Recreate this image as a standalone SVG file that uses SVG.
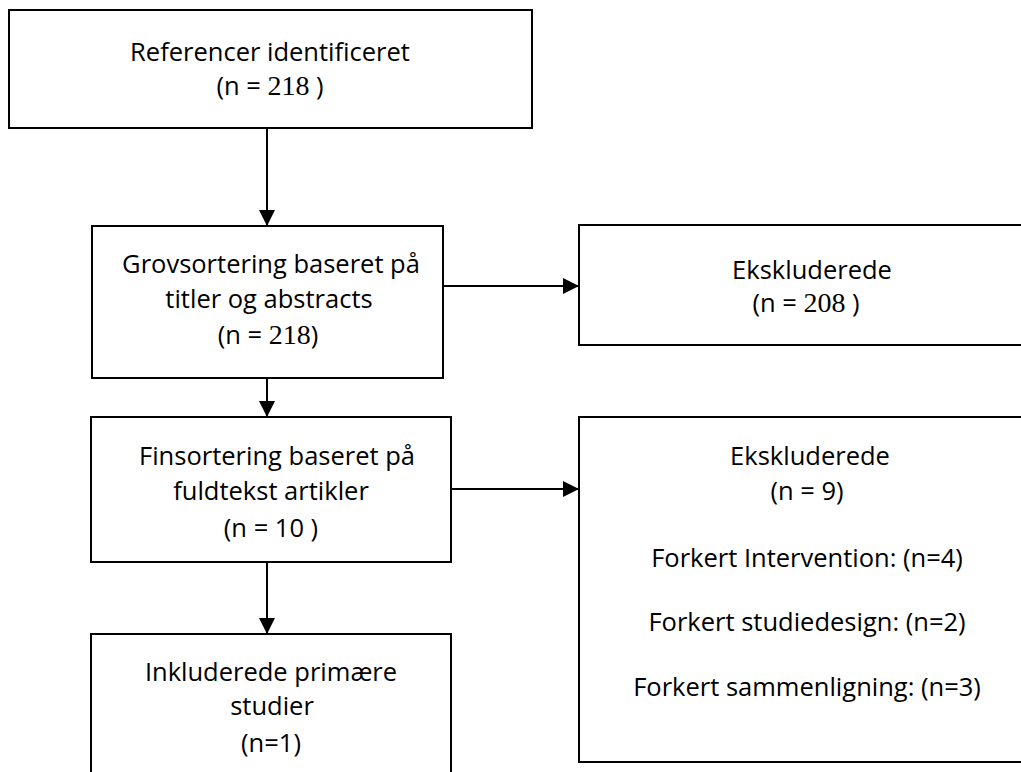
<svg xmlns="http://www.w3.org/2000/svg" width="1021" height="772" viewBox="0 0 1021 772">
<style>
.box{fill:#fff;stroke:#000;stroke-width:2}
.t{font-family:"Open Sans","Liberation Sans",sans-serif;font-size:25.5px;fill:#000;text-anchor:middle}
tspan.num{font-family:"Liberation Serif","Times New Roman",serif;font-size:28px}
.c{stroke:#000;stroke-width:2;fill:none}
</style>
<defs>
<marker id="ah" viewBox="0 0 16 16" refX="16" refY="8" markerWidth="16" markerHeight="16" markerUnits="userSpaceOnUse" orient="auto">
<path d="M0,0 L16,8 L0,16 Z" fill="#000"/>
</marker>
</defs>
<g id="connectors">
<line class="c" x1="267" y1="128" x2="267" y2="226" marker-end="url(#ah)"/>
<line class="c" x1="443" y1="286" x2="579" y2="286" marker-end="url(#ah)"/>
<line class="c" x1="267" y1="378" x2="267" y2="417" marker-end="url(#ah)"/>
<line class="c" x1="451" y1="489" x2="579" y2="489" marker-end="url(#ah)"/>
<line class="c" x1="267" y1="562" x2="267" y2="634" marker-end="url(#ah)"/>
</g>
<g id="n1">
<rect class="box" x="9" y="10" width="523" height="118"/>
<text class="t" x="270" y="61">Referencer identificeret</text>
<text class="t" x="270" y="95">(n = <tspan class="num" font-family="Liberation Serif, serif">218</tspan> )</text>
</g>
<g id="n2">
<rect class="box" x="92" y="226" width="351" height="152"/>
<text class="t" x="271" y="273">Grovsortering baseret på</text>
<text class="t" x="269" y="308">titler og abstracts</text>
<text class="t" x="268" y="344">(n = <tspan class="num" font-family="Liberation Serif, serif">218</tspan>)</text>
</g>
<g id="n3">
<rect class="box" x="579" y="225" width="450" height="120"/>
<text class="t" x="812" y="279">Ekskluderede</text>
<text class="t" x="806" y="312">(n = <tspan class="num" font-family="Liberation Serif, serif">208</tspan> )</text>
</g>
<g id="n4">
<rect class="box" x="91" y="417" width="360" height="145"/>
<text class="t" x="277" y="465">Finsortering baseret på</text>
<text class="t" x="271" y="500">fuldtekst artikler</text>
<text class="t" x="271" y="537">(n = 10 )</text>
</g>
<g id="n5">
<rect class="box" x="91" y="634" width="360" height="150"/>
<text class="t" x="271" y="681">Inkluderede primære</text>
<text class="t" x="272" y="715">studier</text>
<text class="t" x="271" y="752">(n=1)</text>
</g>
<g id="n6">
<rect class="box" x="579" y="417" width="450" height="345"/>
<text class="t" x="810" y="465">Ekskluderede</text>
<text class="t" x="807" y="500">(n = 9)</text>
<text class="t" x="807" y="567">Forkert Intervention: (n=4)</text>
<text class="t" x="807" y="631">Forkert studiedesign: (n=2)</text>
<text class="t" x="807" y="696">Forkert sammenligning: (n=3)</text>
</g>
</svg>
